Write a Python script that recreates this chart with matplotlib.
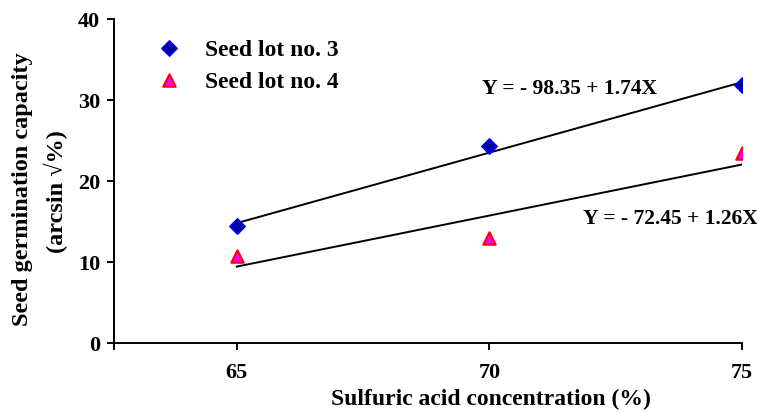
import numpy as np
import matplotlib
matplotlib.use("Agg")
import matplotlib.pyplot as plt

# data
acid = [65, 70, 75]
lot3 = [14.4, 24.3, 31.8]
lot4 = [10.8, 13.0, 23.4]
yticks = [0, 10, 20, 30, 40]
xticks = [65, 70, 75]

plt.rcParams["font.family"] = ["Liberation Serif", "DejaVu Serif"]
plt.rcParams["font.weight"] = "bold"

W, H = 757, 414
fig = plt.figure(figsize=(W / 100, H / 100), dpi=100)
ax = fig.add_axes([114 / W, 70 / H, 628 / W, 324 / H])

ax.scatter(acid, lot3, marker="D", s=60, color="#0000a0", edgecolor="#0000ff",
           linewidth=1.2, zorder=3, label="Seed lot no. 3")
ax.scatter(acid, lot4, marker="^", s=80, color="#ff00ff", edgecolor="#ff0000",
           linewidth=1.5, zorder=3, label="Seed lot no. 4")

# fitted regression lines over the measured range
xs = np.array([acid[0], acid[-1]])
for y in (lot3, lot4):
    b, a = np.polyfit(acid, y, 1)
    ax.plot(xs, a + b * xs, color="black", lw=1.4, zorder=2)

fig.text(482 / W, 1 - 89 / H, "Y = - 98.35 + 1.74X", fontsize=15.5,
         fontweight="bold", va="center")
fig.text(583 / W, 1 - 219 / H, "Y = - 72.45 + 1.26X", fontsize=15.5,
         fontweight="bold", va="center")

ax.set_xlim(62.57, 75)
ax.set_ylim(0, 40)
ax.set_xticks([62.57] + xticks)
ax.set_xticklabels([""] + [str(t) for t in xticks])
ax.set_yticks(yticks)
for s in ("top", "right"):
    ax.spines[s].set_visible(False)
for s in ("left", "bottom"):
    ax.spines[s].set_linewidth(1.4)
ax.tick_params(axis="x", direction="out", length=5, width=1.4, pad=9, labelsize=16)
ax.tick_params(axis="y", direction="out", length=5, width=1.4, pad=5, labelsize=16)
for lab in ax.get_xticklabels() + ax.get_yticklabels():
    lab.set_fontweight("bold")

fig.legend(loc="upper left", bbox_to_anchor=(157 / W, 1 - 39 / H), frameon=False,
           handlelength=1.0, handletextpad=1.03, labelspacing=0.45,
           borderpad=0, borderaxespad=0, prop={"weight": "bold", "size": 17})

fig.text(491 / W, 1 - 399 / H, "Sulfuric acid concentration (%)",
         ha="center", va="center", fontsize=17, fontweight="bold")
fig.text(23 / W, 1 - 189 / H, "Seed germination capacity",
         ha="center", va="center", rotation=90, fontsize=17.5, fontweight="bold")
fig.text(56 / W, 1 - 192 / H, "(arcsin \u221a%)",
         ha="center", va="center", rotation=90, fontsize=17.5, fontweight="bold")

fig.savefig("out.png", dpi=100)
